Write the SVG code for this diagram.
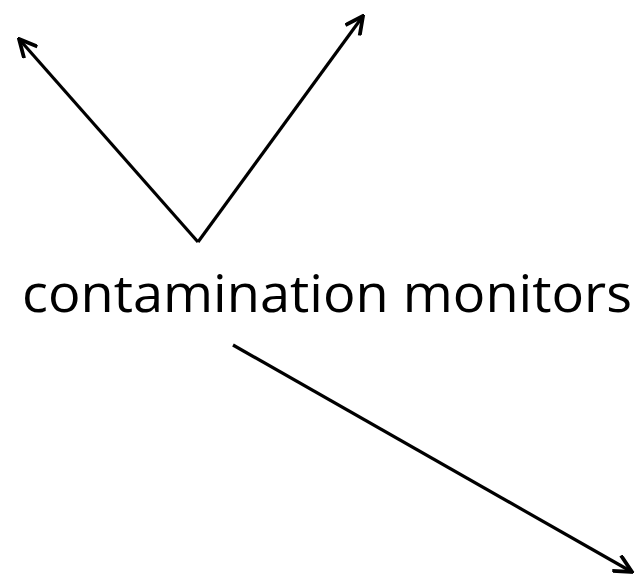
<svg xmlns="http://www.w3.org/2000/svg" width="635" height="577" viewBox="0 0 635 577">
<style>
.c{stroke:#000;stroke-width:3.2;fill:none;marker-end:url(#ah)}
.t{font-family:"Open Sans","Liberation Sans",sans-serif;font-size:51px;fill:#000}
</style>
<defs>
<marker id="ah" markerUnits="userSpaceOnUse" viewBox="-20 -10 22 20" refX="0" refY="0" markerWidth="22" markerHeight="20" orient="auto">
<path d="M-16,-8 L0,0 L-16,8" fill="none" stroke="#000" stroke-width="3.8" stroke-linecap="square"/>
</marker>
</defs>
<rect width="635" height="577" fill="#fff"/>
<g id="connectors">
<line class="c" x1="198" y1="242" x2="19" y2="39"/>
<line class="c" x1="198" y1="242" x2="363" y2="16"/>
<line class="c" x1="233" y1="345" x2="632" y2="572"/>
</g>
<g id="label">
<text class="t" x="22" y="312" textLength="610" lengthAdjust="spacingAndGlyphs">contamination monitors</text>
</g>
</svg>
